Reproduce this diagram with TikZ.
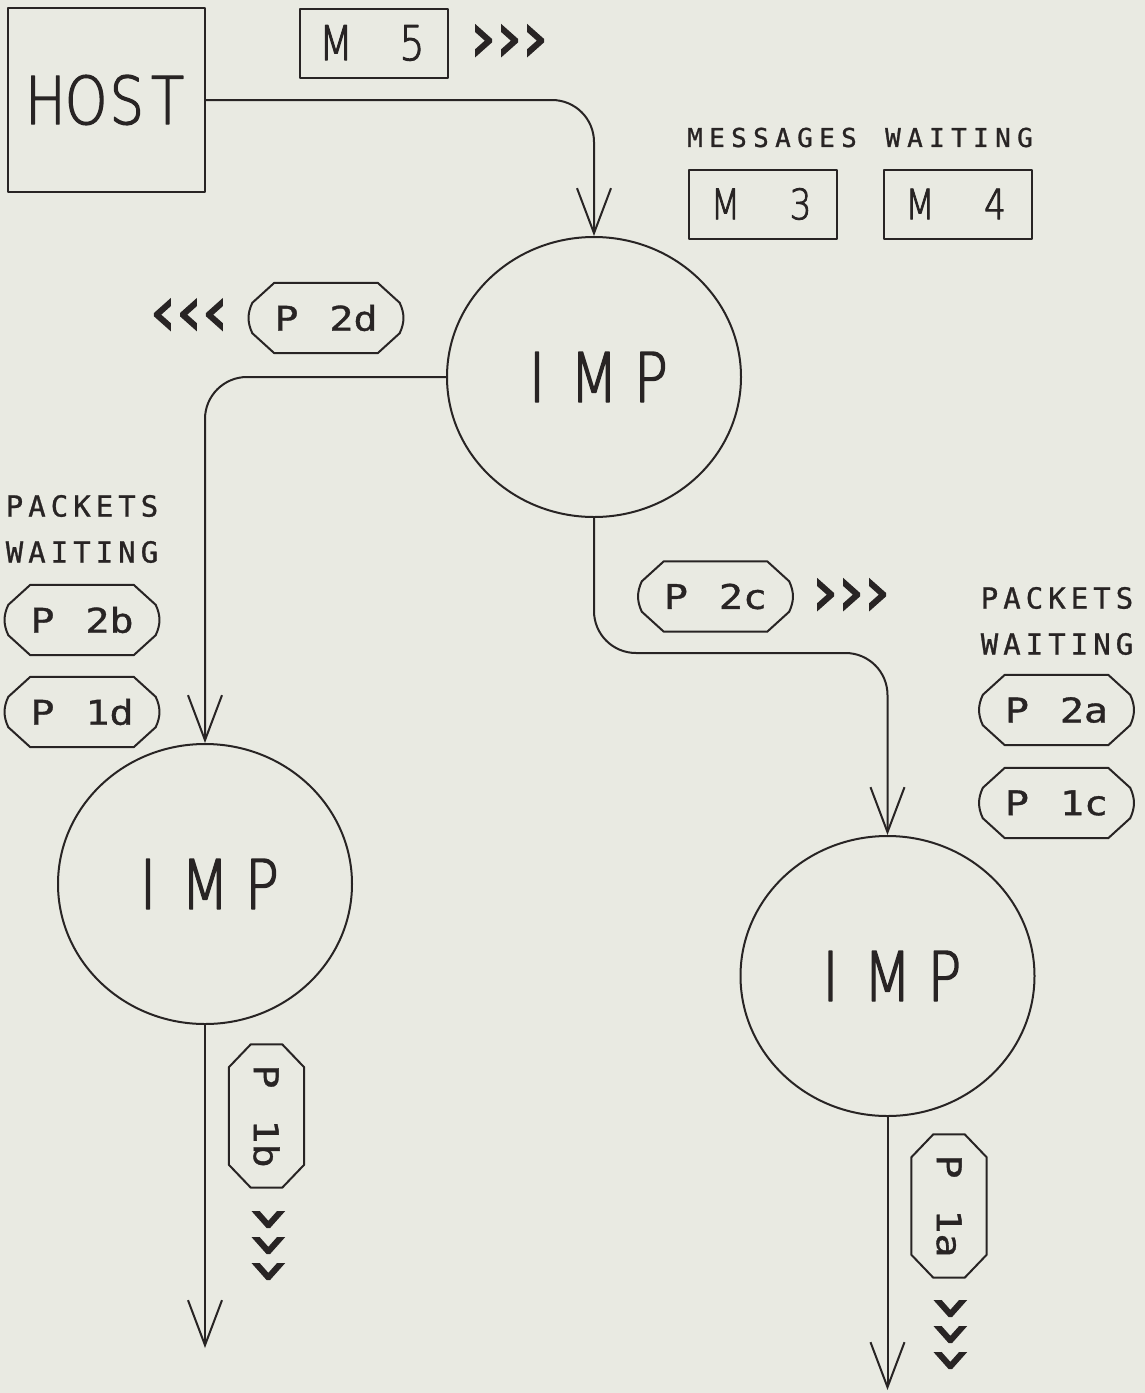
\documentclass[tikz,border=0pt]{standalone}
\usepackage{fontspec}
\usepackage{graphicx}
\usetikzlibrary{shapes.geometric,arrows.meta}
\newfontfamily\thinfont{DejaVu Sans ExtraLight}[FakeStretch=0.82, FakeBold=2]
\newfontfamily\monofont{DejaVu Sans Mono}[FakeBold=1]
\newfontfamily\octfont{DejaVu Sans Mono}[FakeBold=1, FakeStretch=1.18]
\newfontfamily\chevfont{DejaVu Sans}[FakeBold=2]
\makeatletter
\newlength\cellw
\newcommand\cells[2]{\setlength\cellw{#1}\@tfor\c@ll:=#2\do{\makebox[\cellw][c]{\c@ll}}}
\makeatother
\newcommand\pk[2]{\makebox[24pt]{P}\hspace{31pt}\makebox[24pt]{#1}\makebox[24pt]{#2}}
\definecolor{bgc}{RGB}{233,234,226}
\definecolor{ink}{RGB}{40,36,36}
\begin{document}
\begin{tikzpicture}[x=1pt,y=-1pt,
  ln/.style={draw=ink, line width=2pt, line join=round},
  conn/.style={ln, -{Straight Barb[length=45pt,width=34pt]}, rounded corners=42pt},
  imp/.style={ln, ellipse, minimum width=294pt, minimum height=280pt, inner sep=0pt, text=ink, font=\thinfont\fontsize{68.6}{70}\selectfont},
  mbox/.style={ln, rectangle, minimum width=148pt, minimum height=69pt, inner sep=0pt, text=ink},
  octo/.style={minimum width=147pt, minimum height=70pt, inner sep=0pt, text=ink, font=\octfont\fontsize{34}{36}\selectfont},
  vocto/.style={octo, minimum width=75pt, minimum height=143pt},
  lbl/.style={inner sep=0pt, text=ink, font=\monofont\fontsize{29}{30}\selectfont},
  chev/.style={inner sep=0pt, text=ink, font=\chevfont\fontsize{68}{68}\selectfont}]
\fill[bgc] (0,0) rectangle (1145,1393);
\useasboundingbox (0,0) rectangle (1145,1393);

% host and message boxes
\node[ln, rectangle, minimum width=197pt, minimum height=184pt, inner sep=0pt, text=ink, font=\thinfont\fontsize{66}{66}\selectfont] (host) at (106.5,100) {\cells{40.7pt}{HOST}};
\node[mbox, font=\thinfont\fontsize{48}{48}\selectfont] (m5) at (374,43) {\cells{38pt}{M~5}};
\node[chev] (c1) at (509,43) {\cells{26pt}{›››}};
\node[lbl, font=\monofont\fontsize{26}{26}\selectfont] (msgw) at (860,137.5) {\cells{22pt}{MESSAGES~WAITING}};
\node[mbox, font=\thinfont\fontsize{42}{42}\selectfont] (m3) at (763,204) {\cells{37.5pt}{M~3}};
\node[mbox, font=\thinfont\fontsize{42}{42}\selectfont] (m4) at (957.5,204) {\cells{37.5pt}{M~4}};

% IMPs
\node[imp] (imp1) at (594,377) {\cells{57pt}{IMP}};
\node[imp] (imp2) at (205,884) {\cells{57pt}{IMP}};
\node[imp] (imp3) at (887.5,976) {\cells{57pt}{IMP}};

% packets
\node[octo] (p2d) at (326,318) {\pk{2}{d}};
\node[chev] (c2) at (189,317) {\cells{26pt}{‹‹‹}};
\node[lbl] (pwl1) at (82,506) {\cells{22.5pt}{PACKETS}};
\node[lbl] (pwl2) at (82,552) {\cells{22.5pt}{WAITING}};
\node[octo] (p2b) at (82,620) {\pk{2}{b}};
\node[octo] (p1d) at (82,712) {\pk{1}{d}};
\node[octo] (p2c) at (715.5,596.5) {\pk{2}{c}};
\node[chev] (c3) at (851,597) {\cells{26pt}{›››}};
\node[lbl] (pwr1) at (1057,598) {\cells{22.5pt}{PACKETS}};
\node[lbl] (pwr2) at (1057,644) {\cells{22.5pt}{WAITING}};
\node[octo] (p2a) at (1056.5,710) {\pk{2}{a}};
\node[octo] (p1c) at (1056.5,803) {\pk{1}{c}};
\node[vocto] (p1b) at (266.5,1116) {\rotatebox{-90}{\pk{1}{b}}};
\node[chev, rotate=-90] (c4) at (266,1245) {\cells{26pt}{›››}};
\node[vocto] (p1a) at (949,1206) {\rotatebox{-90}{\pk{1}{a}}};
\node[chev, rotate=-90] (c5) at (948,1334) {\cells{26pt}{›››}};

\foreach \n in {p2d,p2b,p1d,p2c,p2a,p1c} {
  \draw[ln] ([xshift=22pt]\n.north west) -- ([xshift=-22pt]\n.north east) -- ([yshift=-20pt]\n.north east)
    to[bend left=25] ([yshift=20pt]\n.south east) -- ([xshift=-22pt]\n.south east) -- ([xshift=22pt]\n.south west)
    -- ([yshift=20pt]\n.south west) to[bend left=25] ([yshift=-20pt]\n.north west) -- cycle;
}
\foreach \n in {p1b,p1a} {
  \draw[ln] ([xshift=22pt]\n.north west) -- ([xshift=-22pt]\n.north east) -- ([yshift=-23pt]\n.north east)
    -- ([yshift=23pt]\n.south east) -- ([xshift=-22pt]\n.south east) -- ([xshift=22pt]\n.south west)
    -- ([yshift=23pt]\n.south west) -- ([yshift=-23pt]\n.north west) -- cycle;
}

% connectors
\coordinate (mid) at (740,653);
\coordinate (end2) at (205,1348);
\coordinate (end3) at (887.5,1390);
\draw[conn] (host.east) -| (imp1.north);
\draw[conn] (imp1.west) -| (imp2.north);
\draw[conn] (imp1.south) |- (mid) -| (imp3.north);
\draw[conn] (imp2.south) -- (end2);
\draw[conn] (imp3.south) -- (end3);
\end{tikzpicture}
\end{document}
